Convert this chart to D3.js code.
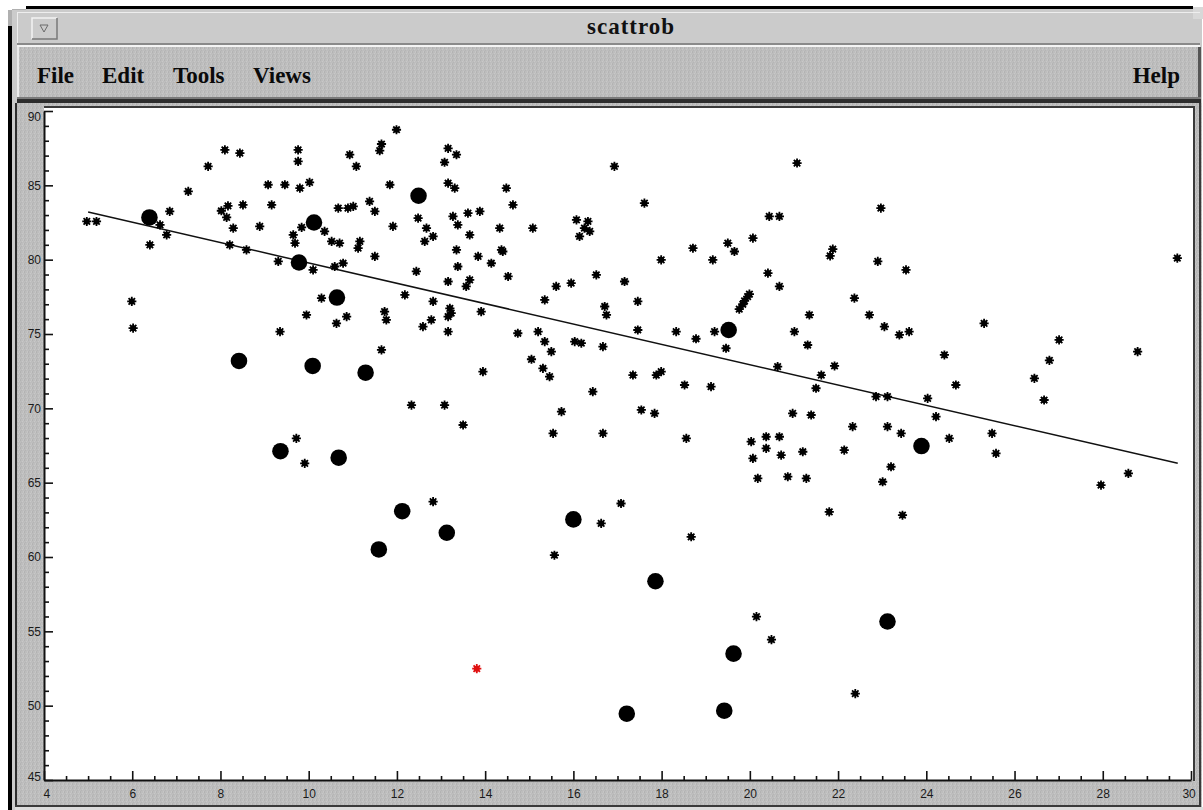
<!DOCTYPE html>
<html>
<head>
<meta charset="utf-8">
<script src="https://cdn.jsdelivr.net/npm/d3@7"></script>
<style>
  body { margin: 0; background: #fff; }
</style>
</head>
<body>
<div id="main"></div>
<script>
const ctx = { w: 1203, h: 810 };
const plot = { left: 44, right: 1193, top: 111, bottom: 780 };

// regular observations (asterisks)
const starX = [4.97, 5.19, 11.99, 8.10, 8.44, 9.76, 9.76, 10.93, 11.08, 11.65, 11.61, 13.16, 13.08, 7.72, 7.27,
  9.08, 9.46, 9.80, 10.02, 11.84, 13.16, 6.85, 6.63, 6.78, 6.40, 8.02, 8.17, 8.14, 8.29, 8.51,
  9.16, 8.89, 9.84, 9.65, 9.69, 10.36, 10.52, 10.70, 10.67, 10.89, 11.01, 11.38, 11.50, 11.16, 11.12,
  11.50, 11.91, 12.48, 12.67, 12.82, 12.63, 12.44, 13.16, 8.21, 8.59, 9.31, 10.10, 10.59, 10.78, 12.18,
  12.82, 10.29, 9.95, 10.86, 10.63, 11.72, 11.76, 12.78, 12.59, 13.16, 13.16, 5.99, 6.02, 9.35, 11.65,
  13.35, 13.31, 14.48, 14.63, 13.27, 13.38, 13.61, 13.88, 13.65, 14.33, 15.08, 13.35, 13.38, 13.84, 14.14,
  14.37, 14.40, 13.65, 13.57, 14.52, 13.20, 13.23, 13.91, 14.74, 15.20, 15.35, 15.50, 15.05, 16.03, 16.18,
  16.67, 15.61, 15.95, 16.52, 17.16, 15.35, 16.71, 16.75, 17.46, 17.46, 18.33, 18.78, 19.20, 19.46, 21.01,
  16.93, 17.61, 16.07, 16.33, 16.25, 16.37, 16.14, 17.99, 18.71, 19.16, 19.50, 19.65, 20.07, 20.41, 20.67,
  20.44, 20.67, 21.07, 19.99, 19.95, 19.88, 19.84, 19.76, 22.97, 21.88, 21.82, 22.90, 23.54, 22.37, 21.35,
  22.71, 23.05, 23.39, 23.61, 21.31, 21.92, 24.41, 25.31, 27.01, 26.79, 28.79, 29.69, 15.31, 15.46, 13.95,
  17.35, 17.88, 17.99, 18.52, 19.12, 16.44, 20.63, 21.62, 21.50, 13.08, 13.50, 15.73, 15.54, 16.67, 17.54,
  17.84, 18.56, 20.97, 21.39, 20.03, 20.37, 20.67, 20.37, 20.07, 20.71, 21.20, 20.18, 20.86, 21.28, 12.82,
  17.08, 16.63, 18.67, 15.57, 21.80, 12.33, 9.72, 9.91, 22.86, 23.12, 24.03, 24.22, 24.67, 26.45, 26.67,
  22.33, 23.12, 23.43, 24.52, 25.49, 25.58, 22.14, 23.20, 23.01, 23.46, 27.96, 28.58, 20.15, 20.49, 22.39];
const starY = [82.57, 82.57, 88.74, 87.39, 87.17, 87.39, 86.61, 87.06, 86.28, 87.78, 87.33, 87.49, 86.55, 86.28, 84.59,
  85.04, 85.04, 84.81, 85.20, 85.04, 85.15, 83.25, 82.34, 81.67, 81.00, 83.29, 83.62, 82.84, 82.12, 83.69,
  83.69, 82.24, 82.17, 81.67, 81.11, 81.90, 81.23, 81.11, 83.47, 83.47, 83.58, 83.92, 83.25, 81.23, 80.77,
  80.22, 82.24, 82.79, 82.12, 81.56, 81.23, 79.21, 78.53, 81.00, 80.66, 79.88, 79.31, 79.54, 79.76, 77.63,
  77.19, 77.41, 76.28, 76.17, 75.72, 76.51, 75.95, 75.95, 75.50, 76.17, 75.16, 77.19, 75.39, 75.16, 73.93,
  87.06, 84.81, 84.81, 83.69, 82.91, 82.34, 83.13, 83.25, 81.67, 82.12, 82.12, 80.66, 79.54, 80.22, 79.76,
  80.66, 80.55, 78.64, 78.20, 78.87, 76.73, 76.40, 76.51, 75.05, 75.16, 74.49, 73.82, 73.30, 74.49, 74.38,
  74.15, 78.20, 78.42, 78.98, 78.53, 77.29, 76.85, 76.28, 77.19, 75.27, 75.16, 74.68, 75.16, 74.04, 75.16,
  86.28, 83.80, 82.68, 82.57, 82.12, 81.90, 81.56, 79.99, 80.77, 79.99, 81.11, 80.55, 81.45, 79.09, 78.20,
  82.91, 82.91, 86.50, 77.68, 77.52, 77.23, 77.00, 76.67, 83.47, 80.71, 80.26, 79.88, 79.31, 77.41, 76.28,
  76.28, 75.50, 74.94, 75.16, 74.26, 72.85, 73.59, 75.72, 74.60, 73.23, 73.82, 80.10, 72.69, 72.13, 72.47,
  72.24, 72.24, 72.47, 71.57, 71.46, 71.12, 72.81, 72.24, 71.35, 70.22, 68.88, 69.78, 68.32, 68.32, 69.89,
  69.66, 67.98, 69.66, 69.55, 67.76, 68.09, 68.09, 67.31, 66.63, 66.85, 67.08, 65.29, 65.40, 65.29, 63.72,
  63.60, 62.26, 61.36, 60.12, 63.04, 70.22, 67.98, 66.30, 70.79, 70.79, 70.67, 69.44, 71.57, 72.02, 70.56,
  68.77, 68.77, 68.32, 67.98, 68.32, 66.97, 67.19, 66.07, 65.06, 62.81, 64.84, 65.62, 55.99, 54.44, 50.81];

// outliers flagged by the robust fit (large dots)
const outX = [6.39, 12.49, 10.12, 9.78, 10.64, 8.42, 10.09, 11.29, 9.36, 10.68, 12.12,
  11.59, 13.13, 16.00, 17.86, 19.52, 23.89, 17.21, 19.42, 19.63, 23.12];
const outY = [82.84, 84.30, 82.50, 79.81, 77.45, 73.19, 72.85, 72.40, 67.12, 66.68, 63.08,
  60.51, 61.63, 62.53, 58.37, 75.27, 67.46, 49.46, 49.66, 53.50, 55.66];

// the selected point (red)
const selX = [13.81];
const selY = [52.49];

// robust regression line endpoints
const lineX = [5.0, 29.7];
const lineY = [83.2, 66.3];

const xMajor = [4, 6, 8, 10, 12, 14, 16, 18, 20, 22, 24, 26, 28, 30];
const xMinor = d3.range(4.5, 30, 0.5).filter(v => v % 2 !== 0);
const yMajor = [45, 50, 55, 60, 65, 70, 75, 80, 85, 90];
const yMinor = d3.range(46, 90, 1).filter(v => v % 5 !== 0);

const menuLeft = ["File", "Edit", "Tools", "Views"];
const menuLeftX = [37, 102, 173, 253];
const menuRight = "Help";
const windowTitle = "scattrob";

const svg = d3.select("#main").append("svg")
    .attr("width", ctx.w)
    .attr("height", ctx.h)
    .style("display", "block");

// grainy motif texture
const defs = svg.append("defs");
const pat = defs.append("pattern").attr("id", "grain")
    .attr("width", 4).attr("height", 4).attr("patternUnits", "userSpaceOnUse");
pat.append("rect").attr("width", 4).attr("height", 4).attr("fill", "#bdbdbd");
[[0, 0, "#b2b2b2"], [2, 1, "#c8c8c8"], [1, 2, "#b5b5b5"], [3, 3, "#c6c6c6"], [3, 0, "#c4c4c4"], [0, 3, "#b4b4b4"]]
    .forEach(p => pat.append("rect").attr("x", p[0]).attr("y", p[1]).attr("width", 1).attr("height", 1).attr("fill", p[2]));

svg.append("rect").attr("width", ctx.w).attr("height", ctx.h).attr("fill", "#fff");

// ---- window frame ----
const frame = svg.append("g");
frame.append("rect").attr("x", 12).attr("y", 9).attr("width", 1190).attr("height", 801).attr("fill", "#cbcbcb");
frame.append("rect").attr("x", 26).attr("y", 6).attr("width", 1167).attr("height", 3).attr("fill", "#000");
frame.append("rect").attr("x", 8).attr("y", 26).attr("width", 4).attr("height", 784).attr("fill", "#000");
frame.append("path").attr("d", "M8,26 L8,10 L26,10 L26,9 L12,9 L12,26 Z").attr("fill", "#b0b0b0");
frame.append("rect").attr("x", 1193).attr("y", 7).attr("width", 10).attr("height", 12).attr("fill", "#d8d8d8");

// title bar
frame.append("rect").attr("x", 17).attr("y", 12).attr("width", 1183).attr("height", 1).attr("fill", "#eeeeee");
frame.append("rect").attr("x", 17).attr("y", 12).attr("width", 1).attr("height", 32).attr("fill", "#eeeeee");
frame.append("rect").attr("x", 17).attr("y", 43).attr("width", 1183).attr("height", 2).attr("fill", "#8a8a8a");
frame.append("rect").attr("x", 17).attr("y", 45).attr("width", 1183).attr("height", 2).attr("fill", "#f4f4f4");

// menu button
const btn = frame.append("g");
btn.append("rect").attr("x", 32).attr("y", 18).attr("width", 25).attr("height", 21).attr("fill", "#cbcbcb");
btn.append("path").attr("d", "M32,39 L32,18 L57,18").attr("fill", "none").attr("stroke", "#f4f4f4").attr("stroke-width", 1.5);
btn.append("path").attr("d", "M32,39 L57,39 L57,18").attr("fill", "none").attr("stroke", "#7a7a7a").attr("stroke-width", 1.5);
btn.append("path").attr("d", "M40,25 L48,25 L44,32 Z").attr("fill", "none").attr("stroke", "#6a6a6a").attr("stroke-width", 1);

frame.append("text")
    .attr("x", 631).attr("y", 34)
    .attr("text-anchor", "middle")
    .style("font-family", "'Liberation Serif', 'DejaVu Serif', serif")
    .style("font-weight", "bold")
    .style("font-size", "23px")
    .style("letter-spacing", "1px")
    .attr("fill", "#111")
    .text(windowTitle);

// menu bar
frame.append("rect").attr("x", 17).attr("y", 47).attr("width", 1183).attr("height", 52).attr("fill", "url(#grain)");
frame.append("rect").attr("x", 17).attr("y", 47).attr("width", 2).attr("height", 52).attr("fill", "#ececec");
frame.append("rect").attr("x", 1198).attr("y", 47).attr("width", 3).attr("height", 55).attr("fill", "#555");
frame.append("rect").attr("x", 17).attr("y", 97).attr("width", 1184).attr("height", 2).attr("fill", "#7a7a7a");
frame.append("rect").attr("x", 17).attr("y", 99).attr("width", 1184).attr("height", 4).attr("fill", "#2e2e2e");

const menuFont = sel => sel
    .style("font-family", "'Liberation Serif', 'DejaVu Serif', serif")
    .style("font-weight", "bold")
    .style("font-size", "23px")
    .attr("fill", "#0a0a0a");

frame.selectAll(".menu")
    .data(menuLeft)
    .enter().append("text")
    .attr("class", "menu")
    .attr("x", (d, i) => menuLeftX[i])
    .attr("y", 83)
    .call(menuFont)
    .text(d => d);

frame.append("text")
    .attr("x", 1180).attr("y", 83)
    .attr("text-anchor", "end")
    .call(menuFont)
    .text(menuRight);

// plot panel
frame.append("rect").attr("x", 15).attr("y", 103).attr("width", 1187).attr("height", 704).attr("fill", "url(#grain)");
frame.append("rect").attr("x", 15).attr("y", 103).attr("width", 2).attr("height", 704).attr("fill", "#2e2e2e");
frame.append("rect").attr("x", 1199).attr("y", 103).attr("width", 2).attr("height", 704).attr("fill", "#3a3a3a");
frame.append("rect").attr("x", 15).attr("y", 805).attr("width", 1186).attr("height", 2).attr("fill", "#3a3a3a");
frame.append("rect").attr("x", 15).attr("y", 807).attr("width", 1188).attr("height", 3).attr("fill", "#dcdcdc");

// ---- chart ----
const x = d3.scaleLinear().domain([4, 30]).range([plot.left, plot.right - 2]);
const y = d3.scaleLinear().domain([45, 90]).range([plot.bottom, plot.top]);

const chart = svg.append("g");
chart.append("rect")
    .attr("x", plot.left).attr("y", plot.top - 3)
    .attr("width", plot.right - plot.left).attr("height", plot.bottom - plot.top + 3)
    .attr("fill", "#fff");
chart.append("rect").attr("x", plot.left).attr("y", plot.top - 5).attr("width", plot.right - plot.left + 2).attr("height", 2).attr("fill", "#3a3a3a");
chart.append("rect").attr("x", plot.right).attr("y", plot.top - 5).attr("width", 2).attr("height", plot.bottom - plot.top + 6).attr("fill", "#3a3a3a");

const styleAxis = g => {
    g.selectAll(".domain").attr("stroke", "#111").attr("stroke-width", 2);
    g.selectAll(".tick line").attr("stroke", "#111").attr("stroke-width", 1.6);
    g.selectAll(".tick text")
        .style("font-family", "'Liberation Sans', Arial, sans-serif")
        .style("font-size", "12px")
        .attr("fill", "#1a1a1a");
};

// y axis
const yAxisG = chart.append("g")
    .attr("transform", `translate(${plot.left},0)`)
    .call(d3.axisLeft(y).tickValues(yMajor).tickSize(-9).tickSizeOuter(0).tickPadding(3))
    .call(styleAxis);
yAxisG.selectAll(".tick text").filter(d => d === 90).attr("dy", "0.75em");
yAxisG.selectAll(".tick text").filter(d => d === 45).attr("dy", "0.05em");
chart.append("g")
    .attr("transform", `translate(${plot.left},0)`)
    .call(d3.axisLeft(y).tickValues(yMinor).tickSize(-5).tickSizeOuter(0).tickFormat(""))
    .call(styleAxis)
    .select(".domain").remove();

// x axis
const xAxisG = chart.append("g")
    .attr("transform", `translate(0,${plot.bottom})`)
    .call(d3.axisBottom(x).tickValues(xMajor).tickSize(-9).tickSizeOuter(0).tickPadding(9))
    .call(styleAxis);
xAxisG.selectAll(".tick text").filter(d => d === 4).attr("dx", "0.2em");
xAxisG.selectAll(".tick text").filter(d => d === 30).attr("dx", "-0.2em");
chart.append("g")
    .attr("transform", `translate(0,${plot.bottom})`)
    .call(d3.axisBottom(x).tickValues(xMinor).tickSize(-4).tickSizeOuter(0).tickFormat(""))
    .call(styleAxis)
    .select(".domain").remove();

// regression line
chart.append("path")
    .datum(d3.zip(lineX, lineY))
    .attr("d", d3.line().x(d => x(d[0])).y(d => y(d[1])))
    .attr("fill", "none")
    .attr("stroke", "#111")
    .attr("stroke-width", 1.5);

// eight-spoke asterisk as a d3 symbol type
const asterisk8 = {
    draw(c, size) {
        const r = Math.sqrt(size) / 2;
        const d = r * 0.7071;
        c.moveTo(-r, 0); c.lineTo(r, 0);
        c.moveTo(0, -r); c.lineTo(0, r);
        c.moveTo(-d, -d); c.lineTo(d, d);
        c.moveTo(-d, d); c.lineTo(d, -d);
    }
};

function drawStars(g, xs, ys, color) {
    const pts = d3.zip(xs, ys);
    const sg = g.selectAll(null).data(pts).enter().append("g")
        .attr("transform", d => `translate(${x(d[0])},${y(d[1])})`);
    sg.append("path")
        .attr("d", d3.symbol().type(asterisk8).size(84))
        .attr("fill", "none")
        .attr("stroke", color)
        .attr("stroke-width", 1.8);
    sg.append("path")
        .attr("d", d3.symbol().type(d3.symbolCircle).size(28))
        .attr("fill", color);
}

const marks = chart.append("g");
drawStars(marks, starX, starY, "#000");

marks.selectAll(".out")
    .data(d3.zip(outX, outY))
    .enter().append("path")
    .attr("class", "out")
    .attr("transform", d => `translate(${x(d[0])},${y(d[1])})`)
    .attr("d", d3.symbol().type(d3.symbolCircle).size(215))
    .attr("fill", "#000");

drawStars(marks, selX, selY, "#e01010");
</script>
</body>
</html>
